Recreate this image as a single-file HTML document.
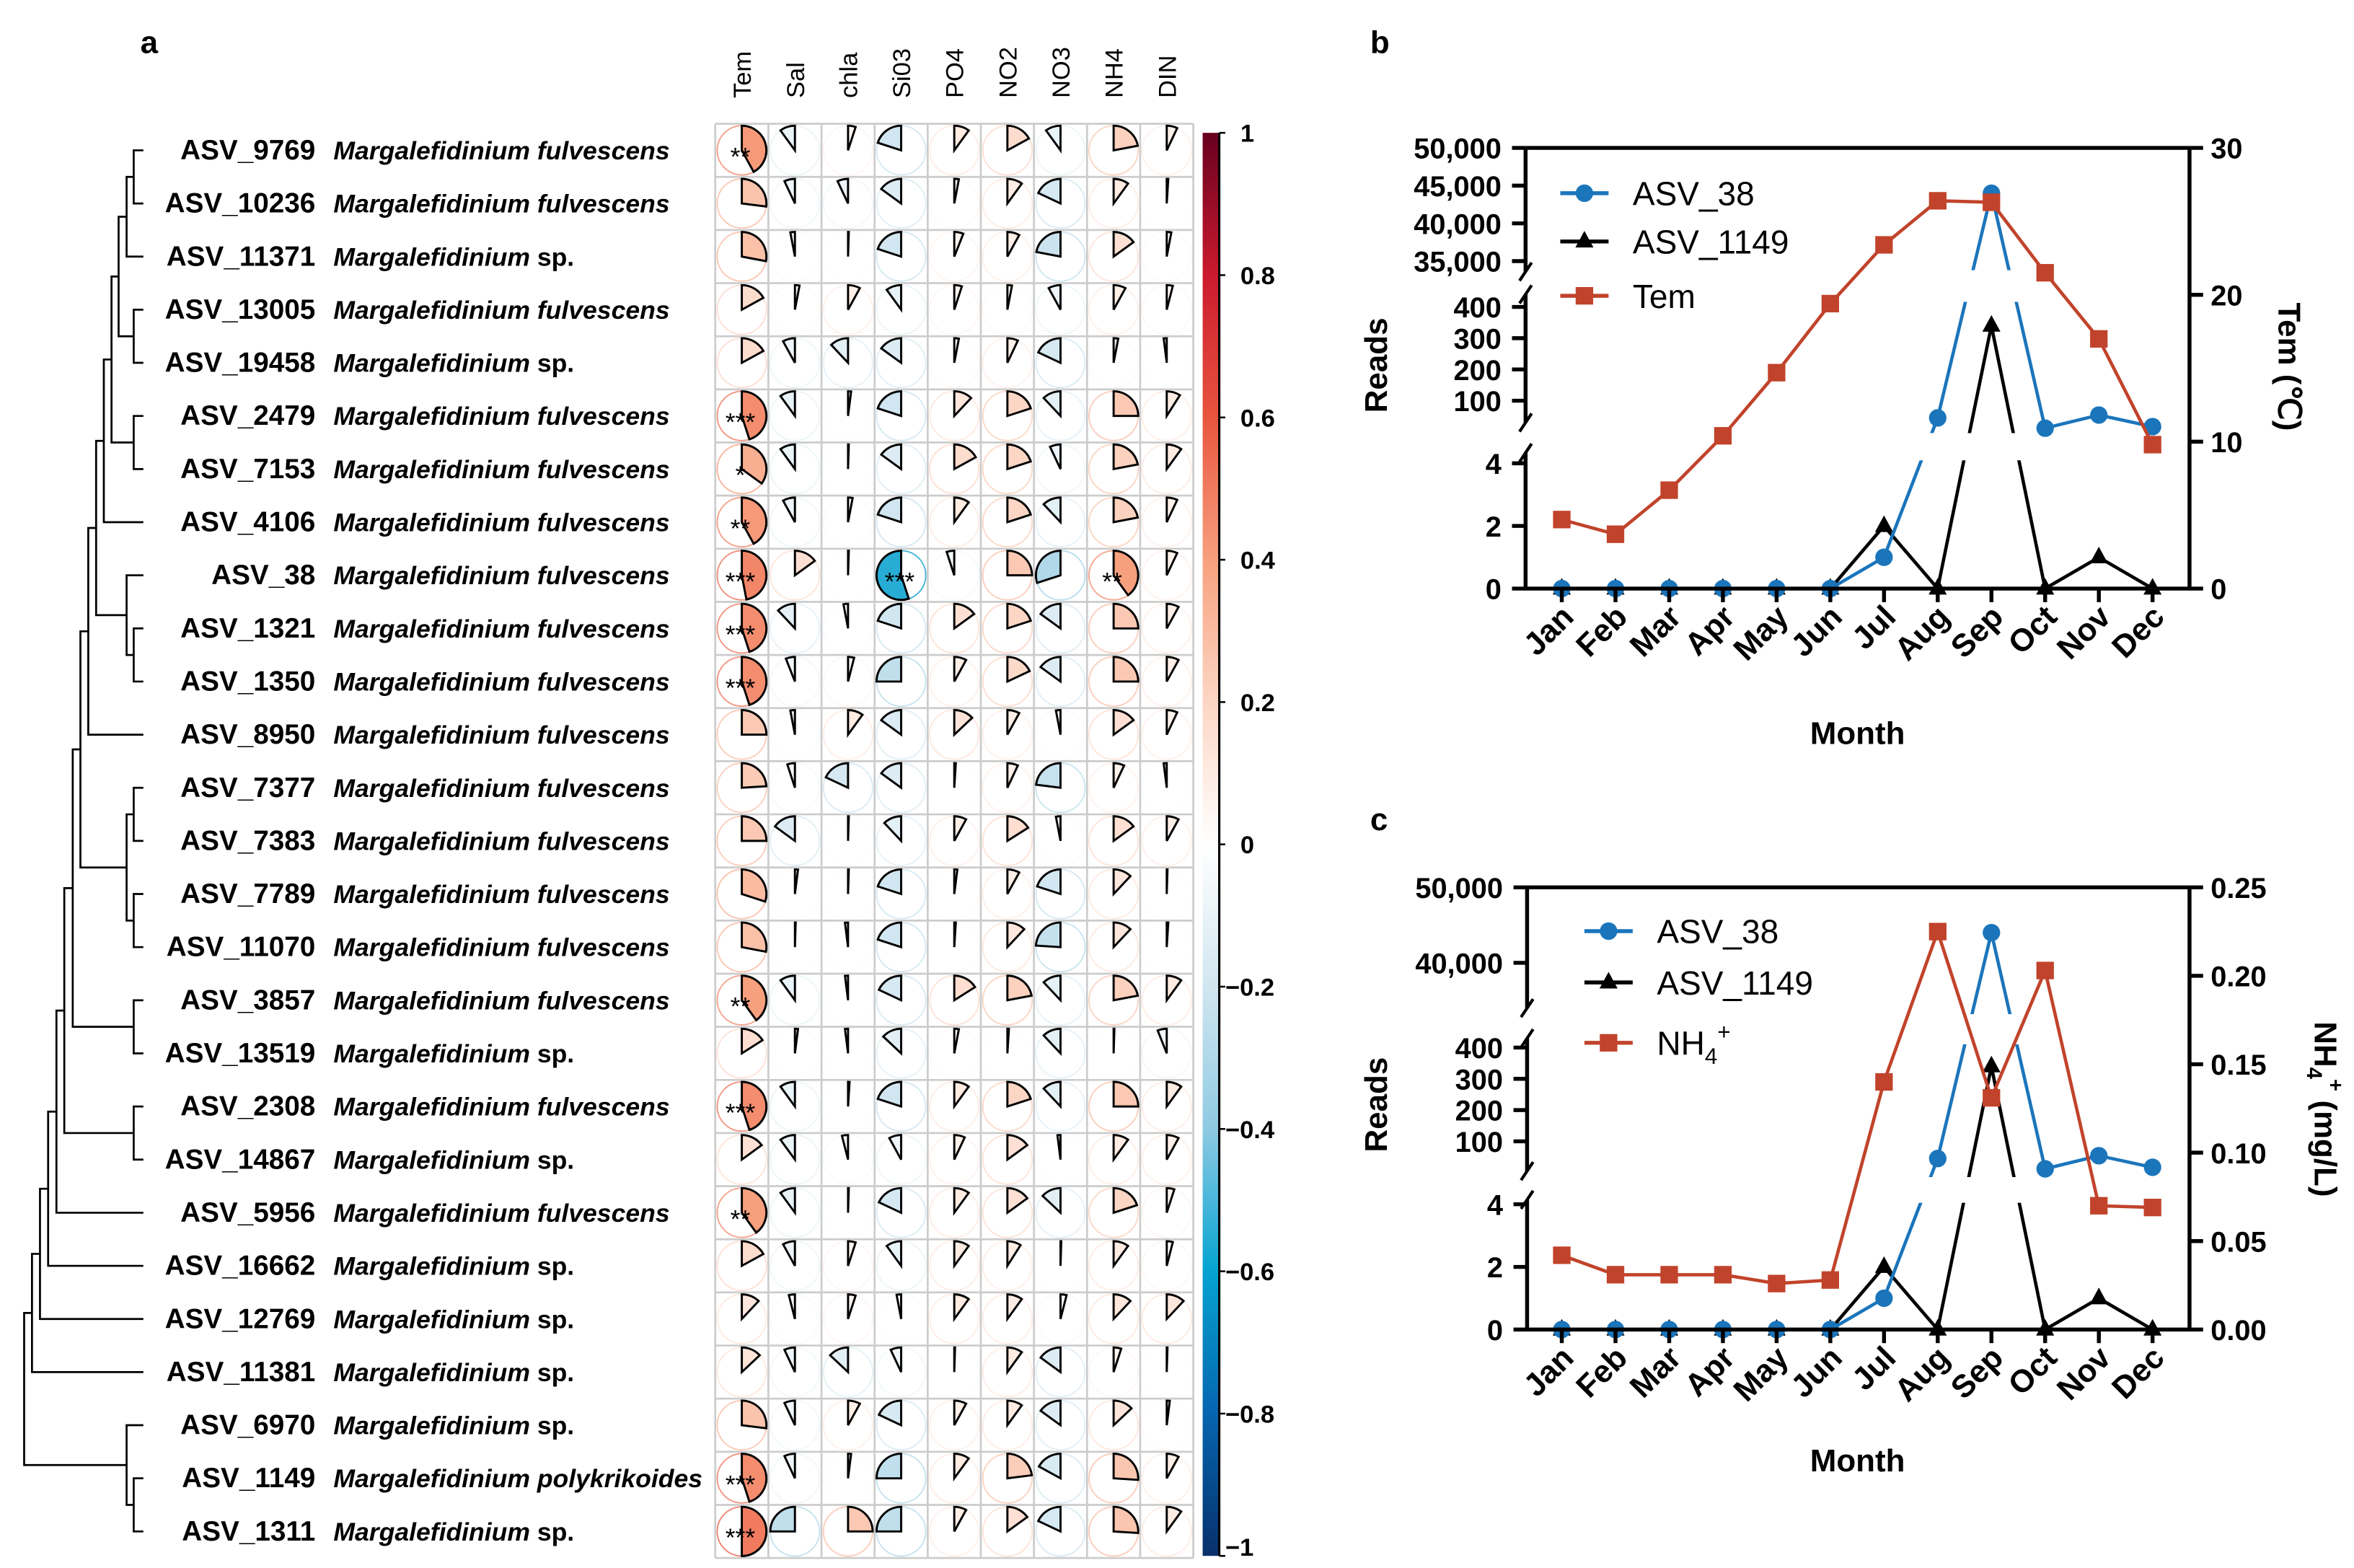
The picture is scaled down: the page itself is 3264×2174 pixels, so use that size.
<!DOCTYPE html>
<html><head><meta charset="utf-8">
<style>
html,body{margin:0;padding:0;background:#fff;}
svg{display:block;font-family:"Liberation Sans",Arial,sans-serif;}
</style></head>
<body>
<svg id="fig" xmlns="http://www.w3.org/2000/svg" width="3264" height="2174" viewBox="0 0 1560 1039">
<rect x="0" y="0" width="1560" height="1039" fill="#fff"/>
<text x="93" y="35" font-size="21" font-weight="bold">a</text>
<text x="908" y="35" font-size="21" font-weight="bold">b</text>
<text x="908" y="550" font-size="21" font-weight="bold">c</text>
<g id="panelA"></g>
<g id="panelB"></g>
<g id="panelC"></g>
</svg>
<script>
// ---------- Panel a data ----------
const asvNames = ["ASV_9769","ASV_10236","ASV_11371","ASV_13005","ASV_19458","ASV_2479","ASV_7153","ASV_4106","ASV_38","ASV_1321","ASV_1350","ASV_8950","ASV_7377","ASV_7383","ASV_7789","ASV_11070","ASV_3857","ASV_13519","ASV_2308","ASV_14867","ASV_5956","ASV_16662","ASV_12769","ASV_11381","ASV_6970","ASV_1149","ASV_1311"];
const speciesNames = ["fulvescens","fulvescens","sp.","fulvescens","sp.","fulvescens","fulvescens","fulvescens","fulvescens","fulvescens","fulvescens","fulvescens","fulvescens","fulvescens","fulvescens","fulvescens","fulvescens","sp.","fulvescens","sp.","fulvescens","sp.","sp.","sp.","sp.","polykrikoides","sp."];
const envVars = ["Tem","Sal","chla","Si03","PO4","NO2","NO3","NH4","DIN"];
const corrValues = [
[0.42,-0.10,0.05,-0.20,0.10,0.17,-0.10,0.22,0.07],
[0.27,-0.07,-0.07,-0.15,0.03,0.10,-0.18,0.10,0.01],
[0.28,-0.03,0.005,-0.20,0.06,0.08,-0.22,0.15,0.03],
[0.17,0.03,0.08,-0.10,0.05,0.03,-0.08,0.08,0.04],
[0.17,-0.08,-0.12,-0.15,0.03,0.07,-0.18,0.03,-0.02],
[0.45,-0.10,0.02,-0.20,0.12,0.20,-0.12,0.25,0.09],
[0.35,-0.10,0.005,-0.15,0.17,0.20,-0.07,0.22,0.10],
[0.42,-0.08,0.03,-0.20,0.10,0.20,-0.12,0.22,0.07],
[0.47,0.15,0.005,-0.55,-0.05,0.25,-0.30,0.40,0.07],
[0.45,-0.12,-0.03,-0.20,0.15,0.20,-0.15,0.25,0.08],
[0.45,-0.06,0.04,-0.25,0.08,0.18,-0.15,0.25,0.08],
[0.25,-0.03,0.10,-0.15,0.13,0.08,-0.03,0.15,0.07],
[0.24,-0.05,-0.18,-0.15,0.01,0.07,-0.23,0.07,-0.02],
[0.25,-0.15,0.005,-0.12,0.08,0.16,-0.03,0.15,0.08],
[0.30,0.02,0.005,-0.20,0.02,0.08,-0.20,0.12,0.005],
[0.28,0.005,-0.02,-0.20,0.01,0.12,-0.24,0.12,0.01],
[0.40,-0.10,-0.02,-0.18,0.16,0.22,-0.12,0.22,0.10],
[0.16,0.02,-0.02,-0.13,0.03,0.01,-0.12,0.005,-0.06],
[0.45,-0.10,0.01,-0.20,0.10,0.20,-0.12,0.25,0.10],
[0.15,-0.10,-0.04,-0.08,0.07,0.15,-0.02,0.10,0.08],
[0.40,-0.10,0.005,-0.18,0.10,0.15,-0.13,0.20,0.05],
[0.17,-0.08,0.05,-0.10,0.10,0.09,0.005,0.10,0.04],
[0.12,-0.04,0.05,-0.03,0.10,0.10,0.04,0.12,0.12],
[0.13,-0.07,-0.13,-0.07,0.005,0.10,-0.15,0.05,0.005],
[0.27,-0.07,0.08,-0.18,0.08,0.10,-0.15,0.13,0.02],
[0.45,-0.07,0.02,-0.25,0.10,0.23,-0.17,0.26,0.08],
[0.50,-0.25,0.25,-0.25,0.08,0.15,-0.18,0.26,0.10]];
const signifLabels = {"0,0":"**","5,0":"***","6,0":"*","7,0":"**","8,0":"***","8,3":"***","8,7":"**","9,0":"***","10,0":"***","16,0":"**","18,0":"***","20,0":"**","25,0":"***","26,0":"***"};
const colorbarTicks = [1,0.8,0.6,0.4,0.2,0,-0.2,-0.4,-0.6,-0.8,-1];
const treeMerges = [[0,1,88.6],[27,2,83.9],[3,4,88.6],[28,29,78.6],[5,6,88.6],[30,31,73.9],[32,7,68.8],
[9,10,88.6],[8,34,83.9],[33,35,63.7],[36,11,58.5],[12,13,88.6],[14,15,88.6],[38,39,83.9],[37,40,53.3],
[16,17,88.6],[41,42,48.2],[18,19,88.6],[43,44,42.6],[45,20,37.4],[46,21,31.9],[47,22,26.5],[48,23,21.2],
[25,26,88.6],[24,50,83.9],[49,51,16]];

// ---------- Panels b/c data ----------
const months = ["Jan","Feb","Mar","Apr","May","Jun","Jul","Aug","Sep","Oct","Nov","Dec"];
const asv38Reads = [0,0,0,0,0,0,1,45,44000,12,54,17];
const asv1149Reads = [0,0,0,0,0,0,2,0,340,0,1,0];
const temValues = [4.7,3.7,6.7,10.4,14.7,19.4,23.4,26.4,26.3,21.5,17.0,9.8];
const nh4Values = [0.042,0.031,0.031,0.031,0.026,0.028,0.140,0.225,0.131,0.203,0.070,0.069];
const readsTopTicksB = [50000,45000,40000,35000];
const readsTopTicksC = [50000,40000];
const readsMidTicks = [400,300,200,100];
const readsLowTicks = [4,2,0];
const temTicks = [0,10,20,30];
const nh4Ticks = [0,0.05,0.10,0.15,0.20,0.25];

const NS="http://www.w3.org/2000/svg";
function mk(tag, attrs, parent){const e=document.createElementNS(NS,tag);for(const k in attrs)e.setAttribute(k,attrs[k]);parent.appendChild(e);return e;}

const cStops=[[-1,"#08306b"],[-0.8,"#0565af"],[-0.6,"#05a3d1"],[-0.4,"#8ecae2"],[-0.2,"#d1e6f0"],[0,"#ffffff"],[0.2,"#fcd6c4"],[0.4,"#f7a07e"],[0.6,"#e8553f"],[0.8,"#cb1a2e"],[1,"#67001f"]];
function hex2(h){return [parseInt(h.substr(1,2),16),parseInt(h.substr(3,2),16),parseInt(h.substr(5,2),16)];}
function colorOf(v){v=Math.max(-1,Math.min(1,v));for(let i=0;i<cStops.length-1;i++){const a=cStops[i],b=cStops[i+1];if(v>=a[0]&&v<=b[0]){const t=(v-a[0])/(b[0]-a[0]);const A=hex2(a[1]),B=hex2(b[1]);return "rgb("+A.map((x,j)=>Math.round(x+(B[j]-x)*t)).join(",")+")";}}return "#fff";}

// ---------- Panel a ----------
const pA=document.getElementById('panelA');
const gridX0=474, gridY0=82, cell=35.2;
const nR=asvNames.length, nC=envVars.length;
function rowY(i){return gridY0+cell*(i+0.5);}
function colX(j){return gridX0+cell*(j+0.5);}
const gGrid=mk('g',{},pA);


for(let i=0;i<=nR;i++){mk('line',{x1:gridX0,x2:gridX0+cell*nC,y1:gridY0+cell*i,y2:gridY0+cell*i,stroke:"#cccccc","stroke-width":1.3},gGrid);}
for(let j=0;j<=nC;j++){mk('line',{x1:gridX0+cell*j,x2:gridX0+cell*j,y1:gridY0,y2:gridY0+cell*nR,stroke:"#cccccc","stroke-width":1.3},gGrid);}
envVars.forEach((v,j)=>{const t=mk('text',{x:0,y:0,transform:`translate(${colX(j)+6},65) rotate(-90)`,"font-size":16.5},pA);t.textContent=v;

});
const R=16.3;
for(let i=0;i<nR;i++){for(let j=0;j<nC;j++){
  const v=corrValues[i][j], cx=colX(j), cy=rowY(i), col=colorOf(v);
  const g=mk('g',{},pA);
  
  
  mk('circle',{cx:cx,cy:cy,r:R,fill:"none",stroke:colorOf(v*1.15),"stroke-width":0.9,"stroke-opacity":0.75},g);
  const ang=Math.abs(v)*2*Math.PI*(v>=0?1:-1);
  const ex=cx+R*Math.sin(ang), ey=cy-R*Math.cos(ang);
  const large=Math.abs(v)>0.5?1:0, sweep=v>=0?1:0;
  mk('path',{d:`M${cx},${cy} L${cx},${cy-R} A${R},${R} 0 ${large} ${sweep} ${ex.toFixed(2)},${ey.toFixed(2)} Z`,fill:col,stroke:"#000","stroke-width":1.4,"stroke-linejoin":"miter"},g);
  const s=signifLabels[i+","+j];
  if(s){const t=mk('text',{x:cx-1,y:cy+10,"font-size":17,"text-anchor":"middle",fill:"#000"},g);t.textContent=s;}
}}
asvNames.forEach((n,i)=>{
  const t=mk('text',{x:209,y:rowY(i)+6,"font-size":18.5,"font-weight":"bold","text-anchor":"end"},pA);t.textContent=n;
  
  
  const s=mk('text',{x:221,y:rowY(i)+6,"font-size":17,"font-weight":"bold"},pA);
  
  
  const a=mk('tspan',{"font-style":"italic"},s);a.textContent="Margalefidinium ";
  const b=mk('tspan',{"font-style":speciesNames[i]==="sp."?"normal":"italic"},s);b.textContent=speciesNames[i];
});
const gTree=mk('g',{fill:"none",stroke:"#000","stroke-width":1.3},pA);


const nodeY=[], nodeX=[];
for(let i=0;i<nR;i++){nodeY.push(rowY(i));nodeX.push(95);}
treeMerges.forEach(m=>{const [a,b,h]=m;
  mk('path',{d:`M${nodeX[a]},${nodeY[a]} H${h} V${nodeY[b]} H${nodeX[b]}`},gTree);
  nodeY.push((nodeY[a]+nodeY[b])/2);nodeX.push(h);});
const cbX=797, cbW=11, cbY0=88, cbY1=1031;
const defs=mk('defs',{},pA);
const lg=mk('linearGradient',{id:"cbgrad",x1:0,y1:0,x2:0,y2:1},defs);
for(let k=0;k<=40;k++){const v=1-k/20;mk('stop',{offset:(k/40),"stop-color":colorOf(v)},lg);}
const cb=mk('rect',{x:cbX,y:cbY0,width:cbW,height:cbY1-cbY0,fill:"url(#cbgrad)"},pA);


mk('line',{x1:cbX+cbW,x2:cbX+cbW,y1:cbY0,y2:cbY1,stroke:"#000","stroke-width":1.5},pA);
colorbarTicks.forEach(v=>{const y=cbY1-(v+1)/2*(cbY1-cbY0);
  mk('line',{x1:cbX+cbW,x2:cbX+cbW+4,y1:y,y2:y,stroke:"#000","stroke-width":1.2},pA);
  const t=mk('text',{x:v<0?812:822,y:y+(v===1?6:v===-1?0:6),"font-size":16.5,"font-weight":"bold"},pA);
  t.textContent=(v<0?"\u2212":"")+String(Math.abs(v));
  
  });

// ---------- Panels b/c ----------
function buildChart(g, cfg){
  const L=cfg.left, Rr=cfg.right, T=cfg.top, B=cfg.base;
  const xOf=i=>1035+i*(1426.5-1035)/11;
  const yReads=v=>{ if(v<=4.5) return B - v*cfg.lowScale; if(v<=450) return cfg.mid0 - v*0.2071; return cfg.topRef - (v-cfg.topRefVal)*cfg.topScale; };
  const yRight=v=>B-(v-0)/cfg.rightMax*(B-T);
  const clipId='clip'+cfg.id;
  const cp=mk('clipPath',{id:clipId},g);
  mk('rect',{x:L,y:T-20,width:Rr-L+20,height:cfg.gaps[0][0]-T+20},cp);
  mk('rect',{x:L,y:cfg.gaps[0][1],width:Rr-L+20,height:cfg.gaps[1][0]-cfg.gaps[0][1]},cp);
  mk('rect',{x:L,y:cfg.gaps[1][1],width:Rr-L+20,height:B-cfg.gaps[1][1]+20},cp);
  function series(vals, color, marker, name, yf, clip){
    const gs=mk('g',{},g);
    
    
    const pts=vals.map((v,i)=>xOf(i).toFixed(1)+","+yf(v).toFixed(1)).join(" ");
    const pl=mk('polyline',{points:pts,fill:"none",stroke:color,"stroke-width":2.2},gs);
    if(clip) pl.setAttribute('clip-path','url(#'+clipId+')');
    vals.forEach((v,i)=>drawMarker(gs,marker,xOf(i),yf(v),color));
  }
  series(asv1149Reads,"#000","tri","series-asv-1149",yReads,true);
  series(asv38Reads,"#1b75bb","circle","series-asv-38",yReads,true);
  series(cfg.rightVals,"#c1432b","square",cfg.rightName,yRight,false);
  const ax=mk('g',{stroke:"#000","stroke-width":2.6,fill:"none"},g);
  
  
  mk('line',{x1:L,x2:Rr,y1:T,y2:T},ax);
  mk('line',{x1:L-1,x2:Rr+1,y1:B,y2:B},ax);
  mk('line',{x1:Rr,x2:Rr,y1:T,y2:B},ax);
  mk('line',{x1:L,x2:L,y1:T,y2:cfg.axisSegs[0]},ax);
  mk('line',{x1:L,x2:L,y1:cfg.axisSegs[1],y2:cfg.axisSegs[2]},ax);
  mk('line',{x1:L,x2:L,y1:cfg.axisSegs[3],y2:B},ax);
  [cfg.axisSegs[0],cfg.axisSegs[1],cfg.axisSegs[2],cfg.axisSegs[3]].forEach(y=>mk('line',{x1:L-4,x2:L+4,y1:y+6,y2:y-6,"stroke-width":2},ax));
  const tickLab=(v,y,name)=>{mk('line',{x1:L-9,x2:L,y1:y,y2:y},ax);
    const t=mk('text',{x:L-16,y:y+7,"font-size":19,"font-weight":"bold","text-anchor":"end",fill:"#000",stroke:"none"},g);
    t.textContent=v.toLocaleString('en-US');
    
    };
  cfg.topTicks.forEach(v=>tickLab(v,yReads(v),'left-tick-label'));
  readsMidTicks.forEach(v=>tickLab(v,yReads(v),'left-tick-label'));
  readsLowTicks.forEach(v=>tickLab(v,yReads(v),'left-tick-label'));
  cfg.rightTicks.forEach(v=>{const y=yRight(v);mk('line',{x1:Rr,x2:Rr+9,y1:y,y2:y},ax);
    const t=mk('text',{x:Rr+14,y:y+7,"font-size":19,"font-weight":"bold",fill:"#000",stroke:"none"},g);
    t.textContent=cfg.rightFmt(v);
    
    });
  months.forEach((m,i)=>{const x=xOf(i);mk('line',{x1:x,x2:x,y1:B,y2:B+9},ax);
    const t=mk('text',{x:0,y:0,transform:`translate(${x+9},${B+20}) rotate(-45)`,"font-size":21,"font-weight":"bold","text-anchor":"end",fill:"#000",stroke:"none"},g);
    t.textContent=m;
    
    });
  const rt=mk('text',{x:0,y:0,transform:`translate(${cfg.readsX},${cfg.readsY}) rotate(-90)`,"font-size":21,"font-weight":"bold","text-anchor":"middle"},g);rt.textContent="Reads";
  
  
  const mt=mk('text',{x:1231,y:cfg.monthY,"font-size":21,"font-weight":"bold","text-anchor":"middle"},g);mt.textContent="Month";
  
  
  cfg.rightTitle(g);
  const lg=mk('g',{},g);
  
  
  const items=[["#1b75bb","circle","ASV_38"],["#000","tri","ASV_1149"],["#c1432b","square",cfg.rightName]];
  items.forEach((it,k)=>{const y=cfg.legY[k];const e=mk('g',{},lg);
    
    
    mk('line',{x1:cfg.legX,x2:cfg.legX+32,y1:y,y2:y,stroke:it[0],"stroke-width":2.6},e);
    drawMarker(e,it[1],cfg.legX+16,y,it[0]);
    const t=mk('text',{x:cfg.legX+48,y:y+8,"font-size":22},e);
    if(k===2) cfg.legendRight(t); else t.textContent=it[2];});
}
function drawMarker(g,type,x,y,c){
  if(type==="circle") mk('circle',{cx:x,cy:y,r:5.8,fill:c},g);
  else if(type==="square") mk('rect',{x:x-5.8,y:y-5.8,width:11.6,height:11.6,fill:c},g);
  else mk('path',{d:`M${x},${y-7} L${x+6},${y+4} L${x-6},${y+4} Z`,fill:c},g);
}
const pB=document.getElementById('panelB');
buildChart(pB,{id:"b",left:1011,right:1451,top:98,base:390,lowScale:20.75,mid0:286.2,topRef:173,topRefVal:35000,topScale:0.005,
  gaps:[[179,200],[287,305]],axisSegs:[180,195,280,300],topTicks:readsTopTicksB,rightTicks:temTicks,rightMax:30,rightVals:temValues,
  rightName:"Tem",rightFmt:v=>String(v),readsX:919,readsY:242,monthY:493,legX:1034,legY:[128,160,196],
  rightTitle:g=>{const t=mk('text',{x:0,y:0,transform:"translate(1510,243) rotate(90)","font-size":21,"font-weight":"bold","text-anchor":"middle"},g);t.textContent="Tem (\u2103)";
    
    },
  legendRight:t=>{t.textContent="Tem";}});
const pC=document.getElementById('panelC');
buildChart(pC,{id:"c",left:1012,right:1451,top:588,base:881,lowScale:20.75,mid0:777,topRef:638,topRefVal:40000,topScale:0.005,
  gaps:[[672,692],[780,797]],axisSegs:[668,688,776,795],topTicks:readsTopTicksC,rightTicks:nh4Ticks,rightMax:0.25,rightVals:nh4Values,
  rightName:"NH4+",rightFmt:v=>v.toFixed(2),readsX:919,readsY:732,monthY:975,legX:1050,legY:[617,651,691],
  rightTitle:g=>{const t=mk('text',{x:0,y:0,transform:"translate(1534,735) rotate(90)","font-size":21,"font-weight":"bold","text-anchor":"middle"},g);
    
    
    const a=mk('tspan',{},t);a.textContent="NH";
    const b=mk('tspan',{"font-size":14,dy:5},t);b.textContent="4";
    const c=mk('tspan',{"font-size":14,dy:-14},t);c.textContent="+";
    const d=mk('tspan',{dy:9},t);d.textContent=" (mg/L)";},
  legendRight:t=>{const a=mk('tspan',{},t);a.textContent="NH";const b=mk('tspan',{"font-size":15,dy:6},t);b.textContent="4";const c=mk('tspan',{"font-size":15,dy:-16},t);c.textContent="+";}});
</script>
</body></html>
